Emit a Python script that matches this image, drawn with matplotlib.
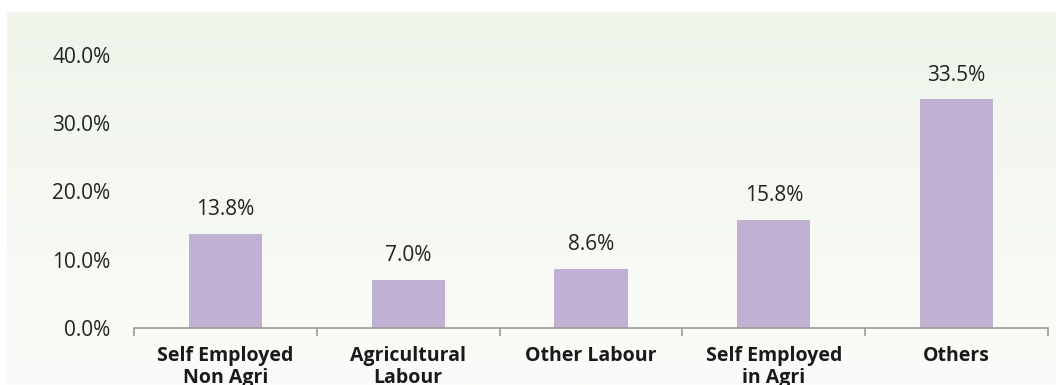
import numpy as np
import matplotlib.pyplot as plt

categories = ["Self Employed\nNon Agri", "Agricultural\nLabour", "Other Labour",
              "Self Employed\nin Agri", "Others"]
values = [13.8, 7.0, 8.6, 15.8, 33.5]
yticks = [0, 10, 20, 30, 40]

plt.rcParams['font.family'] = ['Open Sans', 'DejaVu Sans']

W, H = 1056, 385
fig = plt.figure(figsize=(W / 100, H / 100), dpi=100)

# soft green-to-white panel behind the chart
bg = fig.add_axes([7 / W, 0, 1 - 7 / W, (H - 12) / H], zorder=0)
top = np.array([239, 245, 235]) / 255
bot = np.array([251, 252, 249]) / 255
t = np.linspace(0, 1, 256)[:, None]
grad = (top[None, :] * (1 - t) + bot[None, :] * t)[:, None, :]
bg.imshow(grad, aspect='auto', extent=[0, 1, 0, 1])
bg.axis('off')

ax = fig.add_axes([134 / W, (H - 327.7) / H, (1048 - 134) / W, (327.7 - 55) / H], zorder=1)
ax.patch.set_alpha(0)

x = np.arange(len(categories))
ax.bar(x, values, width=0.4, color='#c0b1d3')
for xi, v in zip(x, values):
    ax.annotate(f"{v:.1f}%", (xi, v), xytext=(0, 17.5), textcoords='offset points',
                ha='center', va='center', fontsize=15, color='#222222',
                annotation_clip=False)

ax.set_xlim(-0.5, len(categories) - 0.5)
ax.set_ylim(0, 40)
ax.set_yticks(yticks)
ax.set_yticklabels([f"{v:.1f}%" for v in yticks], fontsize=15, color='#222222')
ax.tick_params(axis='y', length=0, pad=17)
for lbl in ax.get_yticklabels():
    lbl.set_y(-0.004)

ax.set_xticks(x)
ax.set_xticklabels(categories, fontsize=14, fontweight='bold', color='#1a1a1a',
                   linespacing=1.12)
ax.tick_params(axis='x', which='major', length=0, pad=13)
ax.set_xticks(np.arange(-0.5, len(categories), 1), minor=True)
ax.tick_params(axis='x', which='minor', length=6, width=1.2, color='#9a9a9a',
               direction='out')

for s in ['top', 'right', 'left']:
    ax.spines[s].set_visible(False)
ax.spines['bottom'].set_color('#9a9a9a')
ax.spines['bottom'].set_linewidth(1.2)

fig.savefig('out.png', dpi=100)
